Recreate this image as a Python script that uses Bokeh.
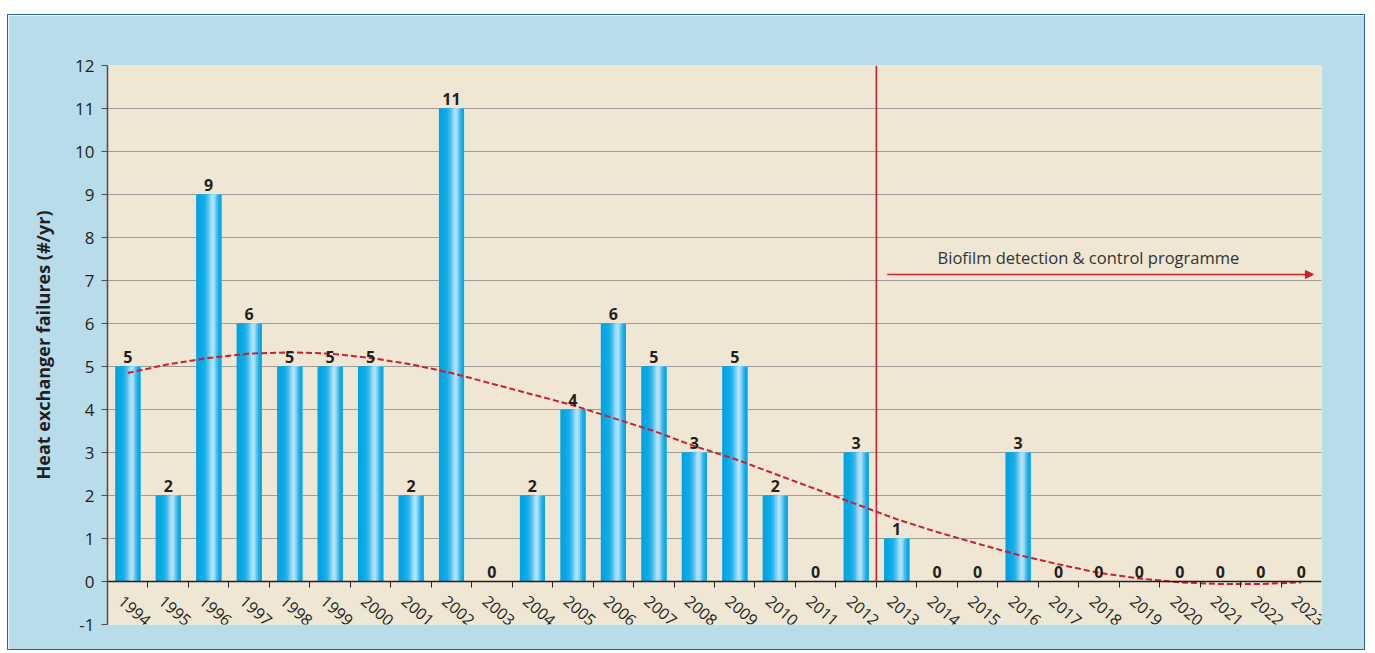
from bokeh.plotting import figure
from bokeh.models import (ColumnDataSource, Range1d, FixedTicker, Arrow, NormalHead)
from bokeh.transform import dodge
from bokeh.core.properties import value
from bokeh.embed import file_html
from bokeh.resources import INLINE

# ---------------- data ----------------
years = ["1994", "1995", "1996", "1997", "1998", "1999", "2000", "2001", "2002", "2003",
         "2004", "2005", "2006", "2007", "2008", "2009", "2010", "2011", "2012", "2013",
         "2014", "2015", "2016", "2017", "2018", "2019", "2020", "2021", "2022", "2023"]
failures = [5, 2, 9, 6, 5, 5, 5, 2, 11, 0,
            2, 4, 6, 5, 3, 5, 2, 0, 3, 1,
            0, 0, 3, 0, 0, 0, 0, 0, 0, 0]
trend = [4.85, 5.05, 5.2, 5.3, 5.33, 5.3, 5.2, 5.05, 4.85, 4.6,
         4.35, 4.1, 3.8, 3.5, 3.15, 2.85, 2.5, 2.15, 1.8, 1.45,
         1.15, 0.88, 0.62, 0.4, 0.2, 0.07, -0.02, -0.06, -0.06, -0.02]
y_ticks = list(range(-1, 13))
programme_label = "Biofilm detection & control programme"
programme_start_year = "2013"
y_label = "Heat exchanger failures (#/yr)"

# ---------------- styling ----------------
FONT = "Open Sans"
BLUE_BG = "#b8dcea"
PLOT_BG = "#efe6d3"
RED = "#c8202f"
TXT = "#231f20"

idx = list(range(len(years)))
n = len(years)
src = ColumnDataSource(dict(x=idx, year=years, v=failures, trend=trend,
                            lab=[str(v) for v in failures]))

p = figure(width=1358, height=636, output_backend="svg", toolbar_location=None,
           x_range=Range1d(-0.5, n - 0.5), y_range=Range1d(-1, 12),
           min_border_left=99, min_border_right=45, min_border_top=50, min_border_bottom=27,
           background_fill_color=PLOT_BG, border_fill_color=BLUE_BG,
           outline_line_color=None,
           styles={"border": "1px solid #2b62a6", "margin-top": "14px", "margin-left": "7px"})

# grid
p.xgrid.visible = False
p.ygrid.grid_line_color = "#a09d99"
p.ygrid.grid_line_width = 1
p.yaxis.ticker = FixedTicker(ticks=y_ticks)
p.yaxis.major_label_overrides = {t: str(t) for t in y_ticks}

# y axis
p.yaxis.axis_line_color = "#4d4d4d"
p.yaxis.axis_line_width = 1.5
p.yaxis.major_tick_out = 6
p.yaxis.major_tick_in = 0
p.yaxis.major_tick_line_color = "#4d4d4d"
p.yaxis.minor_tick_line_color = None
p.yaxis.major_label_text_font = FONT
p.yaxis.major_label_text_font_size = "17px"
p.yaxis.major_label_text_color = TXT
p.yaxis.major_label_standoff = 7
p.yaxis.axis_label = y_label
p.yaxis.axis_label_text_font = FONT
p.yaxis.axis_label_text_font_style = "bold"
p.yaxis.axis_label_text_font_size = "18px"
p.yaxis.axis_label_text_color = TXT
p.yaxis.axis_label_standoff = 17

# x axis at y = 0 with ticks at slot boundaries
p.xaxis.fixed_location = 0
p.xaxis.ticker = FixedTicker(ticks=[i + 0.5 for i in idx[:-1]])
p.xaxis.axis_line_color = "#231f20"
p.xaxis.axis_line_width = 1.5
p.xaxis.major_tick_out = 6
p.xaxis.major_tick_in = 0
p.xaxis.major_tick_line_color = "#231f20"
p.xaxis.minor_tick_line_color = None
p.xaxis.major_label_text_font_size = "0px"
p.xaxis.major_label_text_alpha = 0

# gradient bars built from nested strips (each strip runs to the bar's right edge)
bar_w = 0.62
stops = ["#00a3e3", "#03a5e4", "#08a7e5", "#0eaae6", "#18ade7", "#2cb4e9", "#4cbfee",
         "#7ccff2", "#a6def6", "#b4e3f8", "#8ad4f3", "#4cbfee", "#1eafe8", "#09a6e4"]
k = len(stops)
sw = bar_w / k
for j, c in enumerate(stops):
    left = -bar_w / 2 + sw * j
    right = bar_w / 2
    p.vbar(x=dodge("x", (left + right) / 2, range=p.x_range), top="v", bottom=0,
           width=right - left, source=src, fill_color=c, line_color=None)

# programme start line (between 2012 and 2013)
start_x = years.index(programme_start_year) - 0.5
p.segment(x0=[start_x], y0=[0], x1=[start_x], y1=[12], line_color=RED, line_width=1.6)

# trend line
p.line("x", "trend", source=src, line_color=RED, line_width=2, line_dash="6 3")

# arrow + text
p.add_layout(Arrow(end=NormalHead(size=8, fill_color=RED, line_color=RED),
                   x_start=start_x + 0.27, y_start=7.14, x_end=n - 0.7, y_end=7.14,
                   line_color=RED, line_width=1.6))
p.text(x=[23.74], y=[7.53], text=[programme_label], text_font=value(FONT),
       text_font_size="16.5px", text_color="#333333", text_align="center",
       text_baseline="middle")

# value labels
p.text("x", "v", text="lab", source=src, text_font=value(FONT), text_font_size="16px",
       text_font_style="bold", text_color=TXT, text_align="center",
       text_baseline="bottom", y_offset=-4)

# year labels (rotated)
p.text("x", 0, text="year", source=src, text_font=value(FONT), text_font_size="16px",
       text_color=TXT, text_align="center", text_baseline="middle",
       angle=-0.72, x_offset=7, y_offset=29)

open("out.html", "w").write(file_html(p, INLINE))
